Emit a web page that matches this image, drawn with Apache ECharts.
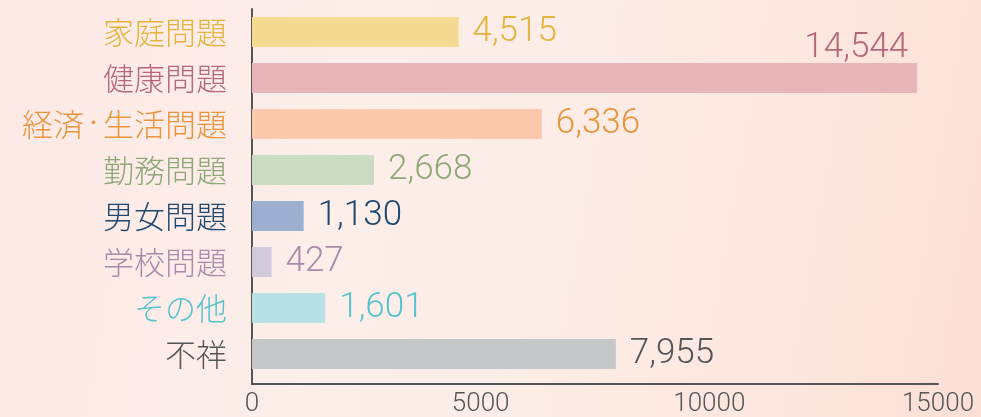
<!DOCTYPE html>
<html>
<head>
<meta charset="utf-8">
<script src="https://cdn.jsdelivr.net/npm/echarts@6/dist/echarts.min.js"></script>
<style>
html,body{margin:0;padding:0;}
#c{width:981px;height:417px;background:linear-gradient(100deg,#fde9e6 0%,#fdeeea 35%,#fdece6 60%,#fde5dc 85%,#fcdfd6 100%);}
</style>
</head>
<body>
<div id="c"></div>
<script>
const categories = ['家庭問題','健康問題','経済・生活問題','勤務問題','男女問題','学校問題','その他','不祥'];
const values = [4515,14544,6336,2668,1130,427,1601,7955];
const barColors = ['#f5da91','#e8b5b9','#fcc9ad','#cbdcc2','#9bb0d0','#d1c9dc','#b7e1e4','#c6c7c9'];
const textColors = ['#e4b43c','#b5687a','#e8963e','#8fa878','#1f4870','#a98aaa','#56c3cf','#555555'];
const xTicks = [0,5000,10000,15000];

const chart = echarts.init(document.getElementById('c'));
const numFont = 'Roboto,"Liberation Sans",sans-serif';
const jpFont = '"Noto Sans CJK JP",sans-serif';

const data = values.map((v,i)=>{
  const item = {
    value: v,
    itemStyle: {color: barColors[i]},
    label: {color: textColors[i]}
  };
  if (v > 12000) {
    item.label.position = ['100%', 0];
    item.label.align = 'right';
    item.label.verticalAlign = 'bottom';
    item.label.offset = [-9, 3];
  }
  return item;
});

const rich = {};
textColors.forEach((c,i)=>{
  rich['t'+i] = {color: c, fontSize: 31, fontFamily: jpFont, fontWeight: 300};
  rich['d'+i] = {color: c, fontSize: 19, fontFamily: jpFont, fontWeight: 300, padding: [0,0,3,0]};
});

chart.setOption({
  backgroundColor: 'transparent',
  animation: false,
  grid: {left: 252, right: 43, top: 9, bottom: 40},
  xAxis: {
    type: 'value',
    min: xTicks[0], max: xTicks[xTicks.length-1], interval: 5000,
    offset: 7,
    axisLine: {show: true, lineStyle: {color: '#555', width: 2}},
    axisTick: {show: false},
    splitLine: {show: false},
    axisLabel: {color: '#555', fontSize: 26, fontFamily: numFont, fontWeight: 300, margin: 7, formatter: v => String(v)}
  },
  yAxis: {
    type: 'category',
    inverse: true,
    data: categories,
    axisLine: {show: true, lineStyle: {color: '#555', width: 2}},
    axisTick: {show: false},
    axisLabel: {
      margin: 25,
      formatter: (val, idx) => val.split('・').map(s => '{t'+idx+'|'+s+'}').join('{d'+idx+'|・}'),
      rich: rich
    }
  },
  series: [{
    type: 'bar',
    data: data,
    barWidth: 30,
    label: {
      show: true,
      position: 'right',
      distance: 14,
      fontSize: 35,
      fontWeight: 300,
      fontFamily: numFont,
      formatter: p => p.value.toLocaleString('en-US')
    }
  }],
  graphic: [{
    type: 'line',
    shape: {x1: 252, y1: 376, x2: 252, y2: 385},
    style: {stroke: '#555', lineWidth: 2}
  }]
});
</script>
</body>
</html>
